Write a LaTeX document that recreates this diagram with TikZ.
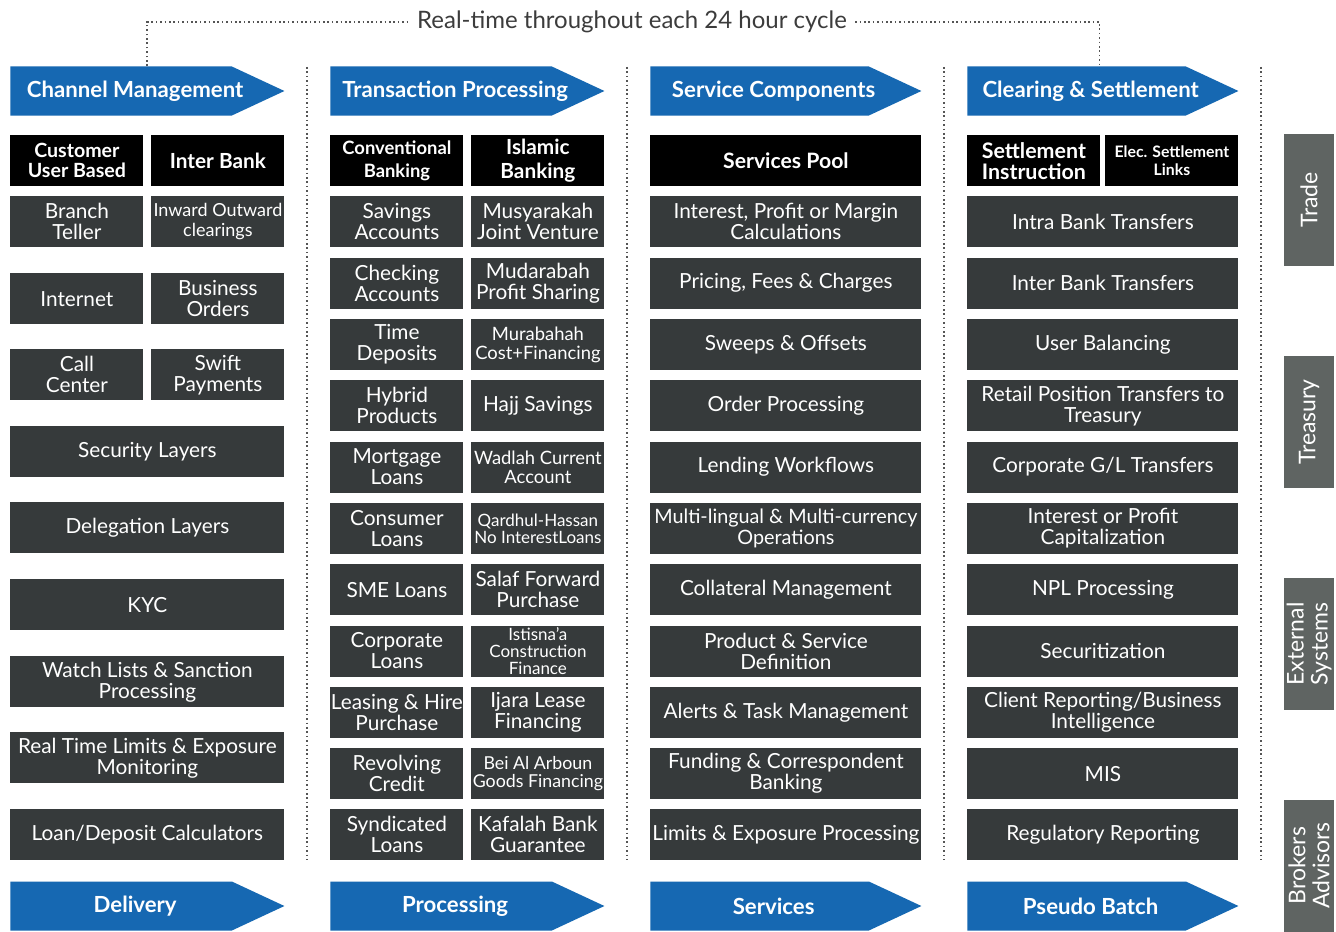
\documentclass[tikz,border=0pt]{standalone}
\usepackage{fontspec}
\setmainfont{Lato}
\usepackage{xcolor}
\usepackage{tikz}
\usetikzlibrary{shapes.symbols, positioning}
\definecolor{flowblue}{RGB}{22, 104, 178}
\definecolor{boxdark}{RGB}{54, 58, 59}
\definecolor{sidegray}{RGB}{95, 100, 98}
\definecolor{dotgray}{RGB}{85, 85, 85}
\definecolor{textdark}{RGB}{60, 60, 60}

\tikzset{
    stage/.style={
        signal, signal to=east, signal pointer angle=50,
        fill=flowblue, minimum height=24.5pt, inner sep=0pt, anchor=west
    },
    stagetext/.style={
        text=white, inner sep=0pt,
        font=\fontsize{11.1}{12}\selectfont\bfseries
    },
    headbox/.style={
        fill=black, text=white,
        font=\fontsize{9.8}{10}\selectfont\bfseries,
        minimum height=25.5pt, inner sep=0pt, align=center, anchor=north west
    },
    itembox/.style={
        fill=boxdark, text=white,
        font=\fontsize{10.4}{10.5}\selectfont,
        minimum height=25.5pt, inner sep=0pt, align=center, anchor=north west
    },
    halfcol/.style={minimum width=66.5pt},
    fullcol/.style={minimum width=137pt},
    widecol/.style={minimum width=135.5pt},
    nrm/.style={},
    widetxt/.style={font=\fontsize{9.9}{10.5}\selectfont},
    smalltxt/.style={font=\fontsize{9.2}{9.6}\selectfont},
    midtxt/.style={font=\fontsize{8.9}{9.3}\selectfont},
    tinytxt/.style={font=\fontsize{8.5}{8.6}\selectfont},
    sidebox/.style={
        fill=sidegray, text=white,
        font=\fontsize{11.5}{12}\selectfont,
        minimum width=66pt, minimum height=25pt,
        inner sep=0pt, rotate=90, align=center
    },
    sepline/.style={dotgray, line width=0.8pt, dash pattern=on 0.8pt off 1.4pt}
}

\begin{document}
\begin{tikzpicture}[x=0.5pt, y=-0.5pt]
    \fill[white] (0,0) rectangle (1336,931);
    \useasboundingbox (0,0) rectangle (1336,931);

    % stages
    \foreach \nm/\x/\y/\w/\txt in {
        chanhdr/10/91/137pt/{Channel Management},
        tranhdr/330/91/137pt/{Transaction Processing},
        servhdr/650/91/135.5pt/{Service Components},
        clrhdr/967/91/135.5pt/{Clearing \& Settlement},
        delivery/10/906/137pt/{Delivery},
        procbar/330/906/137pt/{Processing},
        servbar/650/906/135.5pt/{Services},
        pseudo/967/906/135.5pt/{Pseudo Batch}}
    {
        \node[stage, minimum width=\w] (\nm) at (\x,\y) {};
        \node[stagetext] (\nm-txt) at ([xshift=7pt]\nm.center) {\txt};
    }

    \node[text=textdark, font=\fontsize{12}{13}\selectfont, inner sep=4pt] (cycle) at (632,22)
        {Real-time throughout each 24 hour cycle};
    \draw[sepline] ([xshift=13pt]chanhdr.north) |- (cycle.west);
    \draw[sepline] (cycle.east) -| ([xshift=11.5pt]clrhdr.north);

    \foreach \x in {307, 627, 944, 1261}
        \draw[sepline] (\x,67) -- (\x,860);

    % channel management
    \node[headbox, halfcol] (custuser) at (10,135) {Customer\\User Based};
    \node[headbox, halfcol, font=\fontsize{10.4}{10.5}\selectfont\bfseries] (interbank) at (151,135) {Inter Bank};
    \node[itembox, halfcol] (branch) at (10,196) {Branch\\Teller};
    \node[itembox, halfcol, font=\fontsize{9}{10}\selectfont] (inward) at (151,196) {Inward Outward\\clearings};
    \node[itembox, halfcol] (internet) at (10,273) {Internet};
    \node[itembox, halfcol] (bizorders) at (151,273) {Business\\Orders};
    \node[itembox, halfcol] (callctr) at (10,349) {Call\\Center};
    \node[itembox, halfcol] (swift) at (151,349) {Swift\\Payments};
    \node[itembox, fullcol] (seclayers) at (10,426) {Security Layers};
    \node[itembox, fullcol] (dellayers) at (10,502) {Delegation Layers};
    \node[itembox, fullcol] (kyc) at (10,579) {KYC};
    \node[itembox, fullcol] (watch) at (10,656) {Watch Lists \& Sanction\\Processing};
    \node[itembox, fullcol] (rtlimits) at (10,732) {Real Time Limits \& Exposure\\Monitoring};
    \node[itembox, fullcol] (calcs) at (10,809) {Loan/Deposit Calculators};

    % transaction processing
    \node[headbox, halfcol, font=\fontsize{9.2}{11.5}\selectfont\bfseries] (conv) at (330,135) {Conventional\\Banking};
    \node[headbox, halfcol, font=\fontsize{10.4}{12}\selectfont\bfseries] (islamic) at (471,135) {Islamic\\Banking};
    \foreach \txt [count=\i from 0] in {
        {Savings\\Accounts}, {Checking\\Accounts}, {Time\\Deposits}, {Hybrid\\Products},
        {Mortgage\\Loans}, {Consumer\\Loans}, {SME Loans}, {Corporate\\Loans},
        {Leasing \& Hire\\Purchase}, {Revolving\\Credit}, {Syndicated\\Loans}}
        \node[itembox, halfcol] (conv\i) at (330,196+61.3*\i) {\txt};
    \foreach \txt/\sty [count=\i from 0] in {
        {Musyarakah\\Joint Venture}/nrm, {Mudarabah\\Profit Sharing}/nrm,
        {Murabahah\\Cost+Financing}/smalltxt, {Hajj Savings}/nrm,
        {Wadlah Current\\Account}/smalltxt, {Qardhul-Hassan\\No InterestLoans}/tinytxt,
        {Salaf Forward\\Purchase}/nrm, {Istisna'a\\Construction\\Finance}/tinytxt,
        {Ijara Lease\\Financing}/nrm, {Bei Al Arboun\\Goods Financing}/midtxt,
        {Kafalah Bank\\Guarantee}/nrm}
        \node[itembox, halfcol, \sty] (isl\i) at (471,196+61.3*\i) {\txt};

    % service components
    \node[headbox, widecol, font=\fontsize{10.6}{11}\selectfont\bfseries] (pool) at (650,135) {Services Pool};
    \foreach \txt/\sty [count=\i from 0] in {
        {Interest, Profit or Margin\\Calculations}/nrm, {Pricing, Fees \& Charges}/nrm,
        {Sweeps \& Offsets}/nrm, {Order Processing}/nrm, {Lending Workflows}/nrm,
        {Multi-lingual \& Multi-currency\\Operations}/widetxt,
        {Collateral Management}/nrm,
        {Product \& Service\\Definition}/nrm, {Alerts \& Task Management}/nrm,
        {Funding \& Correspondent\\Banking}/nrm, {Limits \& Exposure Processing}/nrm}
        \node[itembox, widecol, \sty] (svc\i) at (650,196+61.3*\i) {\txt};

    % clearing and settlement
    \node[headbox, halfcol, font=\fontsize{10.7}{10.5}\selectfont\bfseries] (settinstr) at (967,135) {Settlement\\Instruction};
    \node[headbox, halfcol, font=\fontsize{7.9}{9}\selectfont\bfseries] (elecsett) at (1105,135) {Elec. Settlement\\Links};
    \foreach \txt [count=\i from 0] in {
        {Intra Bank Transfers}, {Inter Bank Transfers}, {User Balancing},
        {Retail Position Transfers to\\Treasury}, {Corporate G/L Transfers},
        {Interest or Profit\\Capitalization}, {NPL Processing}, {Securitization},
        {Client Reporting/Business\\Intelligence}, {MIS}, {Regulatory Reporting}}
        \node[itembox, widecol] (clr\i) at (967,196+61.3*\i) {\txt};

    % side systems
    \node[sidebox] (trade) at (1309,200) {Trade};
    \node[sidebox] (treasury) at (1309,422) {Treasury};
    \node[sidebox] (extsys) at (1309,644) {External\\Systems};
    \node[sidebox] (brokers) at (1309,865.5) {Brokers\\Advisors};
\end{tikzpicture}
\end{document}
